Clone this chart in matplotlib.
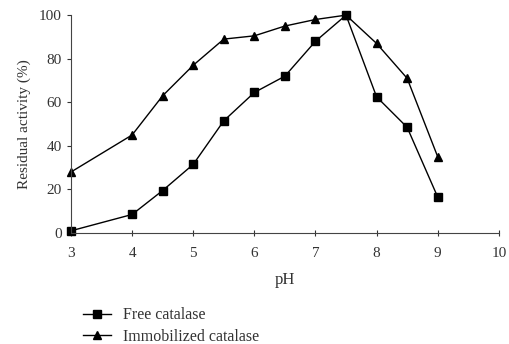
import matplotlib.pyplot as plt

plt.rcParams['font.family'] = ['Liberation Serif', 'DejaVu Serif']

ph = [3, 4, 4.5, 5, 5.5, 6, 6.5, 7, 7.5, 8, 8.5, 9]
free_catalase = [1, 8.5, 19.5, 31.5, 51.5, 64.5, 72, 88, 100, 62.5, 48.5, 16.5]
immobilized_catalase = [28, 45, 63, 77, 89, 90.5, 95, 98, 100, 87, 71, 35]

fig = plt.figure(figsize=(5.09, 3.44), dpi=100)
ax = fig.add_axes([0.1395, 0.3227, 0.8405, 0.6333])

ax.plot(ph, free_catalase, color='black', lw=1, marker='s', ms=5.5,
        label='Free catalase', clip_on=False)
ax.plot(ph, immobilized_catalase, color='black', lw=1, marker='^', ms=6,
        label='Immobilized catalase', clip_on=False)

ax.set_xlim(3, 10)
ax.set_ylim(0, 100)
ax.set_xticks(range(3, 11))
ax.set_yticks(range(0, 101, 20))
ax.spines['top'].set_visible(False)
ax.spines['right'].set_visible(False)
ax.spines['left'].set_color('#444444')
ax.spines['bottom'].set_color('#444444')
ax.tick_params(axis='x', direction='inout', length=4, labelsize=11,
               colors='#333333', pad=8)
ax.tick_params(axis='y', direction='out', length=3, labelsize=11,
               colors='#333333')
ax.set_xlabel('pH', fontsize=12, color='#333333', labelpad=9)
ax.set_ylabel('Residual activity (%)', fontsize=11, color='#333333', labelpad=6)

fig.legend(loc='upper left', bbox_to_anchor=(0.15, 0.125), frameon=False,
           fontsize=11.5, handlelength=1.75, handletextpad=0.8,
           labelspacing=0.35, borderaxespad=0, labelcolor='#333333')

fig.savefig('out.png', dpi=100)
